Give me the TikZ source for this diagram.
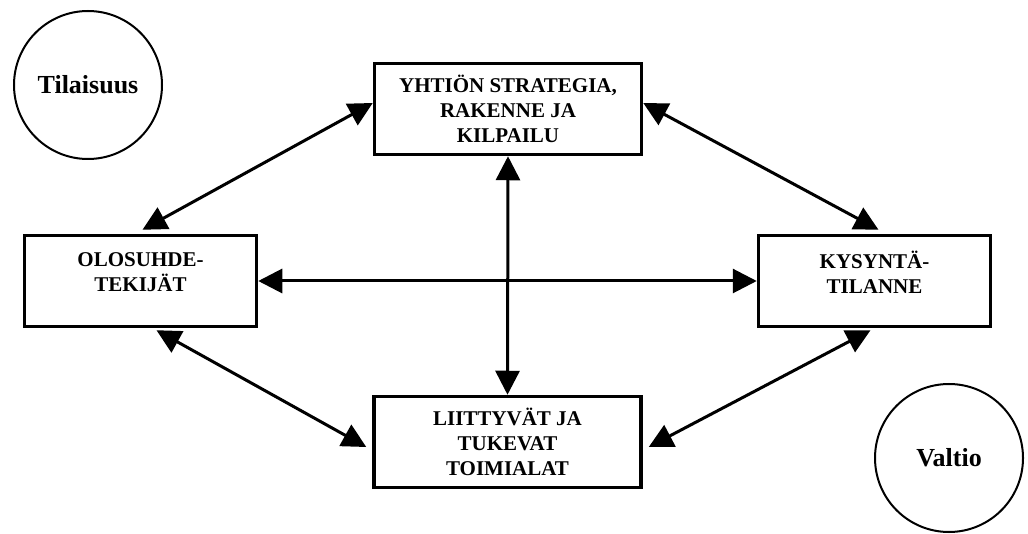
\documentclass[tikz,border=0pt]{standalone}
\usepackage{fontspec}
\setmainfont{Liberation Serif}
\usepackage{tikz}
\usetikzlibrary{arrows.meta, calc}

\tikzset{
  factor/.style={draw, line width=3.5pt, align=center, inner sep=0pt,
    font=\bfseries\fontsize{21}{25}\selectfont},
  chance/.style={draw, circle, line width=2pt, minimum size=148pt, inner sep=0pt,
    font=\bfseries\fontsize{26}{30}\selectfont},
  link/.style={{Triangle[length=24pt,width=24pt]}-{Triangle[length=24pt,width=24pt]}, line width=3pt}
}

\begin{document}
\begin{tikzpicture}[x=1pt, y=-1pt]
  \useasboundingbox (0,0) rectangle (1028,534);

  % Outer influences
  \node[chance] (tilaisuus) at (88,85) {Tilaisuus};
  \node[chance] (valtio) at (949,458) {Valtio};

  % Diamond boxes
  \node[factor, minimum width=267pt, minimum height=91pt] (strategia) at (508,109)
    {YHTIÖN STRATEGIA,\\RAKENNE JA\\KILPAILU};
  \node[factor, minimum width=232pt, minimum height=91pt] (olosuhteet) at (140.5,281)
    {OLOSUHDE-\\TEKIJÄT\\[-8pt]\mbox{}};
  \node[factor, minimum width=232pt, minimum height=91pt] (kysynta) at (874.5,281)
    {KYSYNTÄ-\\TILANNE\\[-8pt]\mbox{}};
  \node[factor, minimum width=267pt, minimum height=91pt] (toimialat) at (507.5,442)
    {LIITTYVÄT JA\\TUKEVAT\\TOIMIALAT};

  % Links
  \draw[link] ($(olosuhteet.north)+(2,-4)$) -- ($(strategia.west)+(0,-6)$);
  \draw[link] ($(strategia.east)+(0,-6)$) -- ($(kysynta.north)+(4,-4)$);
  \draw[link] (olosuhteet.east) -- (kysynta.west);
  \draw[link] (strategia.south) -- (toimialat.north);
  \draw[link] ($(olosuhteet.south)+(16,2)$) -- ($(toimialat.west)+(-6,5)$);
  \draw[link] ($(toimialat.east)+(6,5)$) -- ($(kysynta.south)+(-4,2)$);
\end{tikzpicture}
\end{document}
